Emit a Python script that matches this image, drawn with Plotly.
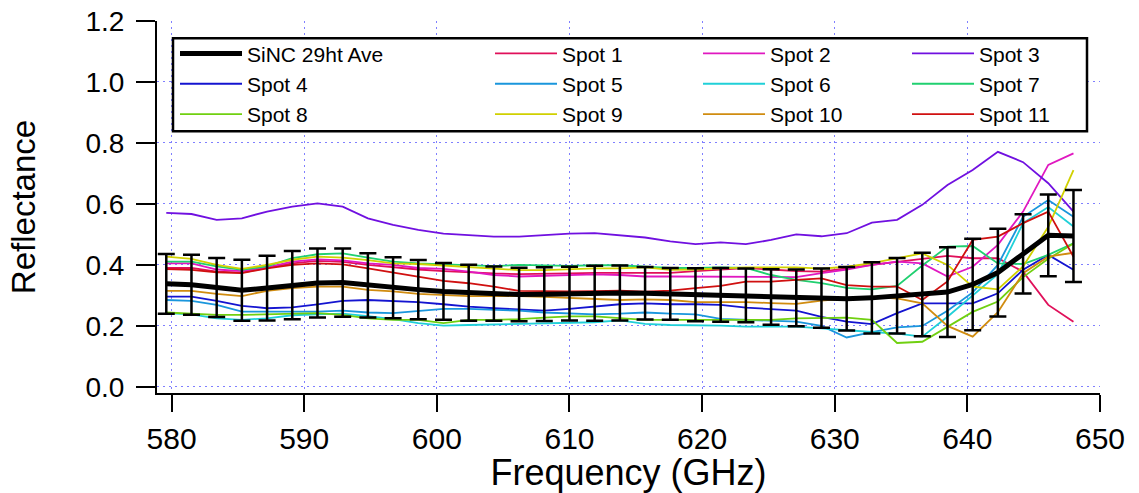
import plotly.graph_objects as go

freq = [579.6, 581.5, 583.4, 585.3, 587.2, 589.1, 591.0, 592.9, 594.8, 596.7, 598.6, 600.5,
        602.4, 604.3, 606.2, 608.1, 610.0, 611.9, 613.8, 615.7, 617.6, 619.5, 621.4, 623.3,
        625.2, 627.1, 629.0, 630.9, 632.8, 634.7, 636.6, 638.5, 640.4, 642.3, 644.2, 646.1, 648.0]

ave = [0.338, 0.335, 0.326, 0.317, 0.324, 0.334, 0.341, 0.342, 0.333, 0.325, 0.319, 0.313,
       0.309, 0.306, 0.303, 0.304, 0.306, 0.307, 0.308, 0.307, 0.305, 0.302, 0.302, 0.300,
       0.295, 0.292, 0.291, 0.289, 0.292, 0.299, 0.303, 0.311, 0.336, 0.375, 0.436, 0.497, 0.495]
ave_err = [0.098, 0.098, 0.097, 0.100, 0.106, 0.112, 0.113, 0.112, 0.105, 0.100, 0.097, 0.093,
           0.092, 0.089, 0.088, 0.088, 0.088, 0.090, 0.090, 0.086, 0.085, 0.087, 0.088, 0.088,
           0.091, 0.093, 0.097, 0.104, 0.117, 0.124, 0.137, 0.147, 0.150, 0.144, 0.130, 0.134, 0.151]

spot1 = [0.390, 0.390, 0.378, 0.375, 0.390, 0.405, 0.413, 0.410, 0.400, 0.392, 0.385, 0.380,
         0.375, 0.372, 0.370, 0.370, 0.372, 0.374, 0.374, 0.372, 0.374, 0.380, 0.386, 0.390,
         0.385, 0.380, 0.378, 0.390, 0.400, 0.410, 0.420, 0.430, 0.422, 0.422, 0.378, 0.269, 0.214]
spot2 = [0.405, 0.405, 0.385, 0.380, 0.392, 0.411, 0.418, 0.415, 0.405, 0.400, 0.390, 0.387,
         0.378, 0.367, 0.362, 0.365, 0.367, 0.369, 0.367, 0.362, 0.362, 0.362, 0.362, 0.360,
         0.362, 0.360, 0.373, 0.385, 0.400, 0.411, 0.405, 0.362, 0.394, 0.466, 0.575, 0.728, 0.766]
spot3 = [0.571, 0.567, 0.548, 0.553, 0.575, 0.591, 0.602, 0.591, 0.553, 0.531, 0.515, 0.503,
         0.498, 0.493, 0.493, 0.498, 0.503, 0.504, 0.497, 0.490, 0.477, 0.468, 0.474, 0.468,
         0.482, 0.500, 0.494, 0.504, 0.539, 0.548, 0.597, 0.662, 0.711, 0.771, 0.737, 0.668, 0.575]
spot4 = [0.296, 0.296, 0.282, 0.266, 0.258, 0.261, 0.271, 0.282, 0.285, 0.282, 0.278, 0.271,
         0.263, 0.258, 0.253, 0.250, 0.256, 0.263, 0.271, 0.274, 0.271, 0.271, 0.269, 0.260,
         0.256, 0.250, 0.230, 0.214, 0.206, 0.242, 0.274, 0.274, 0.274, 0.307, 0.384, 0.433, 0.384]
spot5 = [0.285, 0.282, 0.269, 0.247, 0.247, 0.247, 0.247, 0.250, 0.244, 0.242, 0.250, 0.256,
         0.256, 0.253, 0.250, 0.244, 0.242, 0.238, 0.240, 0.244, 0.240, 0.238, 0.223, 0.220,
         0.217, 0.214, 0.200, 0.162, 0.180, 0.195, 0.200, 0.250, 0.310, 0.400, 0.558, 0.613, 0.558]
spot6 = [0.242, 0.238, 0.225, 0.220, 0.225, 0.235, 0.238, 0.240, 0.232, 0.222, 0.209, 0.201,
         0.203, 0.205, 0.205, 0.207, 0.209, 0.212, 0.218, 0.207, 0.203, 0.203, 0.201, 0.198,
         0.198, 0.198, 0.192, 0.185, 0.180, 0.175, 0.165, 0.230, 0.300, 0.370, 0.537, 0.590, 0.526]
spot7 = [0.411, 0.411, 0.395, 0.384, 0.395, 0.422, 0.435, 0.438, 0.424, 0.411, 0.405, 0.402,
         0.400, 0.396, 0.400, 0.398, 0.397, 0.399, 0.399, 0.394, 0.390, 0.390, 0.392, 0.390,
         0.367, 0.351, 0.340, 0.325, 0.320, 0.331, 0.398, 0.460, 0.462, 0.405, 0.403, 0.433, 0.471]
spot8 = [0.244, 0.240, 0.236, 0.236, 0.238, 0.240, 0.242, 0.236, 0.225, 0.220, 0.220, 0.209,
         0.220, 0.220, 0.222, 0.227, 0.231, 0.231, 0.225, 0.220, 0.220, 0.220, 0.220, 0.220,
         0.220, 0.225, 0.227, 0.227, 0.220, 0.144, 0.148, 0.198, 0.246, 0.280, 0.360, 0.420, 0.470]
spot9 = [0.427, 0.420, 0.400, 0.387, 0.400, 0.417, 0.427, 0.424, 0.416, 0.405, 0.403, 0.398,
         0.394, 0.387, 0.383, 0.383, 0.386, 0.389, 0.389, 0.392, 0.384, 0.385, 0.389, 0.392,
         0.392, 0.392, 0.388, 0.394, 0.406, 0.422, 0.438, 0.400, 0.329, 0.320, 0.395, 0.525, 0.711]
spot10 = [0.315, 0.315, 0.305, 0.298, 0.315, 0.324, 0.329, 0.329, 0.318, 0.313, 0.305, 0.302,
          0.298, 0.298, 0.298, 0.295, 0.291, 0.287, 0.285, 0.287, 0.285, 0.278, 0.278, 0.278,
          0.275, 0.272, 0.283, 0.290, 0.296, 0.290, 0.274, 0.200, 0.165, 0.245, 0.373, 0.427, 0.440]
spot11 = [0.386, 0.384, 0.376, 0.373, 0.389, 0.400, 0.405, 0.402, 0.389, 0.375, 0.362, 0.348,
          0.340, 0.329, 0.315, 0.313, 0.313, 0.314, 0.316, 0.312, 0.316, 0.324, 0.331, 0.345,
          0.345, 0.351, 0.356, 0.334, 0.329, 0.329, 0.285, 0.346, 0.482, 0.493, 0.537, 0.575, 0.427]

spot_names = ["Spot 1", "Spot 2", "Spot 3", "Spot 4", "Spot 5", "Spot 6",
              "Spot 7", "Spot 8", "Spot 9", "Spot 10", "Spot 11"]
spot_values = [spot1, spot2, spot3, spot4, spot5, spot6, spot7, spot8, spot9, spot10, spot11]
spot_colors = ["#e0105a", "#e018c0", "#7010e0", "#1414d0", "#1a96dc", "#20d0d8",
               "#20d070", "#70d010", "#d0d000", "#d08c10", "#d01010"]
# legend column and row of each spot, matching the 4x3 grid of the reference
spot_legend = ["legend2", "legend3", "legend4", "legend", "legend2", "legend3",
               "legend4", "legend", "legend2", "legend3", "legend4"]
spot_rank = [1, 1, 1, 2, 2, 2, 2, 3, 3, 3, 3]

FONT = "Liberation Sans, Arial, sans-serif"

fig = go.Figure()
for name, vals, col, lg, rk in zip(spot_names, spot_values, spot_colors, spot_legend, spot_rank):
    fig.add_trace(go.Scatter(x=freq, y=vals, mode="lines", name=name,
                             line=dict(color=col, width=1.8), legend=lg, legendrank=rk))

fig.add_trace(go.Scatter(x=freq, y=ave, mode="lines", name="SiNC 29ht Ave",
                         line=dict(color="black", width=5), legend="legend", legendrank=1,
                         error_y=dict(type="data", array=ave_err, visible=True,
                                      color="black", thickness=2.5, width=8.5)))

grid = dict(showgrid=True, gridcolor="#7f7fff", gridwidth=1.3, griddash="2px,4px")

fig.update_layout(
    width=1139, height=493,
    margin=dict(l=157, r=39, t=21, b=100),
    paper_bgcolor="white", plot_bgcolor="white",
    font=dict(family=FONT, color="black"),
    xaxis=dict(range=[578.9, 650], tickvals=[580, 590, 600, 610, 620, 630, 640, 650],
               ticks="outside", ticklen=17, tickwidth=2, tickcolor="black",
               showline=True, linecolor="black", linewidth=2, zeroline=False,
               automargin=False,
               tickfont=dict(size=30, family=FONT), ticklabelstandoff=1,
               title=dict(text="Frequency (GHz)", font=dict(size=36, family=FONT), standoff=0),
               **grid),
    yaxis=dict(range=[-0.02, 1.2], tickvals=[0, 0.2, 0.4, 0.6, 0.8, 1.0, 1.2],
               ticktext=["0.0", "0.2", "0.4", "0.6", "0.8", "1.0", "1.2"],
               ticks="outside", ticklen=19, tickwidth=2, tickcolor="black",
               showline=True, linecolor="black", linewidth=2, zeroline=False,
               automargin=False,
               tickfont=dict(size=28, family=FONT), ticklabelstandoff=6,
               title=dict(text="Reflectance", font=dict(size=33, family=FONT), standoff=40),
               **grid),
    showlegend=True,
)

legend_common = dict(orientation="v", xanchor="left", yanchor="top", yref="paper", xref="paper",
                     bgcolor="rgba(0,0,0,0)", borderwidth=0, itemwidth=62,
                     font=dict(size=21, family=FONT, color="black"), tracegroupgap=0)
col_x = [183, 498, 706, 915]
legends = {}
for i, key in enumerate(["legend", "legend2", "legend3", "legend4"]):
    legends[key] = dict(legend_common, x=(col_x[i] - 8 - 157) / 943.0, y=(392.7 - 33) / 372.0)
fig.update_layout(**legends)

# legend frame
fig.add_shape(type="rect", xref="paper", yref="paper",
              x0=(173 - 157) / 943.0, x1=(1087 - 157) / 943.0,
              y0=(392.7 - 131) / 372.0, y1=(392.7 - 38) / 372.0,
              line=dict(color="black", width=2.5), fillcolor="white", layer="above")

fig.write_html("out.html")
